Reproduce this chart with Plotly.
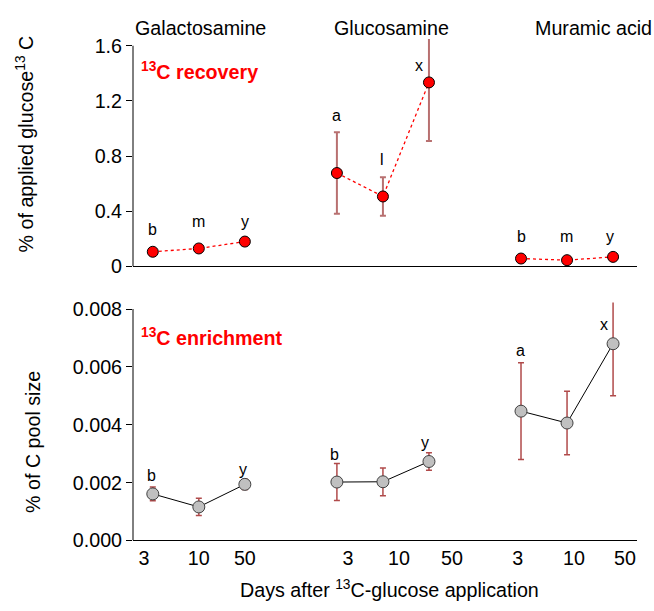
import plotly.graph_objects as go

# ---------------- data ----------------
groups = ["Galactosamine", "Glucosamine", "Muramic acid"]
days = ["3", "10", "50"]

# 13C recovery (% of applied glucose 13C)
rec_gal = [0.106, 0.130, 0.180]
rec_glc = [0.677, 0.507, 1.334]
rec_mur = [0.057, 0.045, 0.069]
rec_err_gal = [0.0, 0.0, 0.0]
rec_err_glc = [0.295, 0.140, 0.424]
rec_err_mur = [0.0, 0.0, 0.0]
rec_letters_gal = ["b", "m", "y"]
rec_letters_glc = ["a", "l", "x"]
rec_letters_mur = ["b", "m", "y"]

# 13C enrichment (% of C pool size)
enr_gal = [0.00161, 0.00116, 0.00194]
enr_glc = [0.00202, 0.00203, 0.00273]
enr_mur = [0.00447, 0.00406, 0.00680]
enr_err_gal = [0.00024, 0.00030, 0.00018]
enr_err_glc = [0.00064, 0.00048, 0.00030]
enr_err_mur = [0.00167, 0.00110, 0.00180]
enr_letters_gal = ["b", "", "y"]
enr_letters_glc = ["b", "", "y"]
enr_letters_mur = ["a", "", "x"]

# ---------------- label placement (layout only) ----------------
rec_lab_y = [[0.269, 0.327, 0.327], [1.096, 0.778, 1.457], [0.219, 0.219, 0.219]]
rec_lab_dx = [[0, 0, 0], [0, -0.03, -0.22], [0, -0.02, -0.07]]
enr_lab_y = [[0.00226, 0, 0.00247], [0.00298, 0, 0.00337], [0.00657, 0, 0.00748]]
enr_lab_dx = [[-0.03, 0, -0.05], [-0.05, 0, -0.09], [-0.02, 0, -0.2]]
tick_pos = [-0.19, 1.0, 2.0, 4.24, 5.35, 6.5, 7.93, 9.15, 10.26]

FONT = "Liberation Sans, Arial, sans-serif"
FS = 19.7
W, H = 654, 611
XR = [-0.43, 10.52]

rec = [rec_gal, rec_glc, rec_mur]
rec_err = [rec_err_gal, rec_err_glc, rec_err_mur]
rec_let = [rec_letters_gal, rec_letters_glc, rec_letters_mur]
enr = [enr_gal, enr_glc, enr_mur]
enr_err = [enr_err_gal, enr_err_glc, enr_err_mur]
enr_let = [enr_letters_gal, enr_letters_glc, enr_letters_mur]

fig = go.Figure()
annotations = []

for g in range(3):
    xs = [4 * g + d for d in range(3)]
    fig.add_trace(go.Scatter(
        x=xs, y=rec[g], mode="lines+markers", xaxis="x", yaxis="y",
        line=dict(color="#ff0000", width=1.3, dash="dot"),
        marker=dict(size=11, color="#ff0000", line=dict(color="#000000", width=1)),
        error_y=dict(type="data", array=rec_err[g], visible=True,
                     color="#b87070", thickness=2, width=3),
        showlegend=False, hoverinfo="skip"))
    fig.add_trace(go.Scatter(
        x=xs, y=enr[g], mode="lines+markers", xaxis="x2", yaxis="y2",
        line=dict(color="#000000", width=1),
        marker=dict(size=12, color="#c0c0c0", line=dict(color="#404040", width=1)),
        error_y=dict(type="data", array=enr_err[g], visible=True,
                     color="#b04a4a", thickness=1.5, width=3),
        showlegend=False, hoverinfo="skip"))
    for d in range(3):
        if rec_let[g][d]:
            annotations.append(dict(x=xs[d] + rec_lab_dx[g][d], y=rec_lab_y[g][d], xref="x", yref="y",
                                    text=rec_let[g][d], showarrow=False,
                                    font=dict(family=FONT, size=16, color="#000")))
        if enr_let[g][d]:
            annotations.append(dict(x=xs[d] + enr_lab_dx[g][d], y=enr_lab_y[g][d], xref="x2", yref="y2",
                                    text=enr_let[g][d], showarrow=False,
                                    font=dict(family=FONT, size=16, color="#000")))

# group titles
for name, px in zip(groups, [200, 391.5, 593]):
    annotations.append(dict(x=px / W, y=1 - 25 / H, xref="paper", yref="paper", text=name,
                            showarrow=False, xanchor="center", yanchor="middle",
                            font=dict(family=FONT, size=FS, color="#000")))

# panel labels
annotations.append(dict(x=139 / W, y=1 - 69 / H, xref="paper", yref="paper",
                        text="<b><sup>13</sup>C recovery</b>", showarrow=False,
                        xanchor="left", yanchor="middle",
                        font=dict(family=FONT, size=FS, color="#ff0000")))
annotations.append(dict(x=139 / W, y=1 - 341 / H, xref="paper", yref="paper",
                        text="<b><sup>13</sup>C enrichment</b>", showarrow=False,
                        xanchor="left", yanchor="middle",
                        font=dict(family=FONT, size=FS, color="#ff0000")))

# axis titles
annotations.append(dict(x=25 / W, y=1 - 144 / H, xref="paper", yref="paper",
                        text="% of applied glucose<sup>13</sup> C", textangle=-90,
                        showarrow=False, xanchor="center", yanchor="middle",
                        font=dict(family=FONT, size=FS, color="#000")))
annotations.append(dict(x=33 / W, y=1 - 449 / H, xref="paper", yref="paper",
                        text="% of C pool size", textangle=-90,
                        showarrow=False, xanchor="center", yanchor="middle",
                        font=dict(family=FONT, size=FS, color="#000")))
annotations.append(dict(x=389 / W, y=1 - 600 / H, xref="paper", yref="paper",
                        text="Days after <sup>13</sup>C-glucose application",
                        showarrow=False, xanchor="center", yanchor="middle",
                        font=dict(family=FONT, size=FS, color="#000")))

xdom = [133 / W, 637 / W]
shapes = [
    dict(type="line", xref="paper", yref="y", x0=xdom[0], x1=xdom[0], y0=0, y1=1.6,
         line=dict(color="#000", width=1)),
    dict(type="line", xref="paper", yref="y2", x0=xdom[0], x1=xdom[0], y0=0, y1=0.008,
         line=dict(color="#000", width=1)),
]

fig.update_layout(
    width=W, height=H, margin=dict(l=0, r=0, t=0, b=0),
    paper_bgcolor="white", plot_bgcolor="white",
    font=dict(family=FONT, size=FS, color="#000"),
    xaxis=dict(domain=xdom, range=XR, anchor="y", showgrid=False, zeroline=False,
               showline=True, linecolor="#000", linewidth=1, ticks="", showticklabels=False),
    yaxis=dict(domain=[1 - 269 / H, 1 - 36 / H], range=[0, 1.648], anchor="x",
               showgrid=False, zeroline=False, showline=False,
               ticks="outside", ticklen=6, tickcolor="#000", tickwidth=1,
               tickvals=[0, 0.4, 0.8, 1.2, 1.6], ticktext=["0", "0.4", "0.8", "1.2", "1.6"],
               tickfont=dict(family=FONT, size=FS)),
    xaxis2=dict(domain=xdom, range=XR, anchor="y2", showgrid=False, zeroline=False,
                showline=True, linecolor="#000", linewidth=1, ticks="",
                tickvals=tick_pos, ticktext=days * 3, tickfont=dict(family=FONT, size=FS)),
    yaxis2=dict(domain=[1 - 550 / H, 1 - 306 / H], range=[0, 0.008226], anchor="x2",
                showgrid=False, zeroline=False, showline=False,
                ticks="outside", ticklen=6, tickcolor="#000", tickwidth=1,
                tickvals=[0, 0.002, 0.004, 0.006, 0.008], tickformat=".3f",
                tickfont=dict(family=FONT, size=FS)),
    annotations=annotations, shapes=shapes,
)

fig.write_html("out.html")
